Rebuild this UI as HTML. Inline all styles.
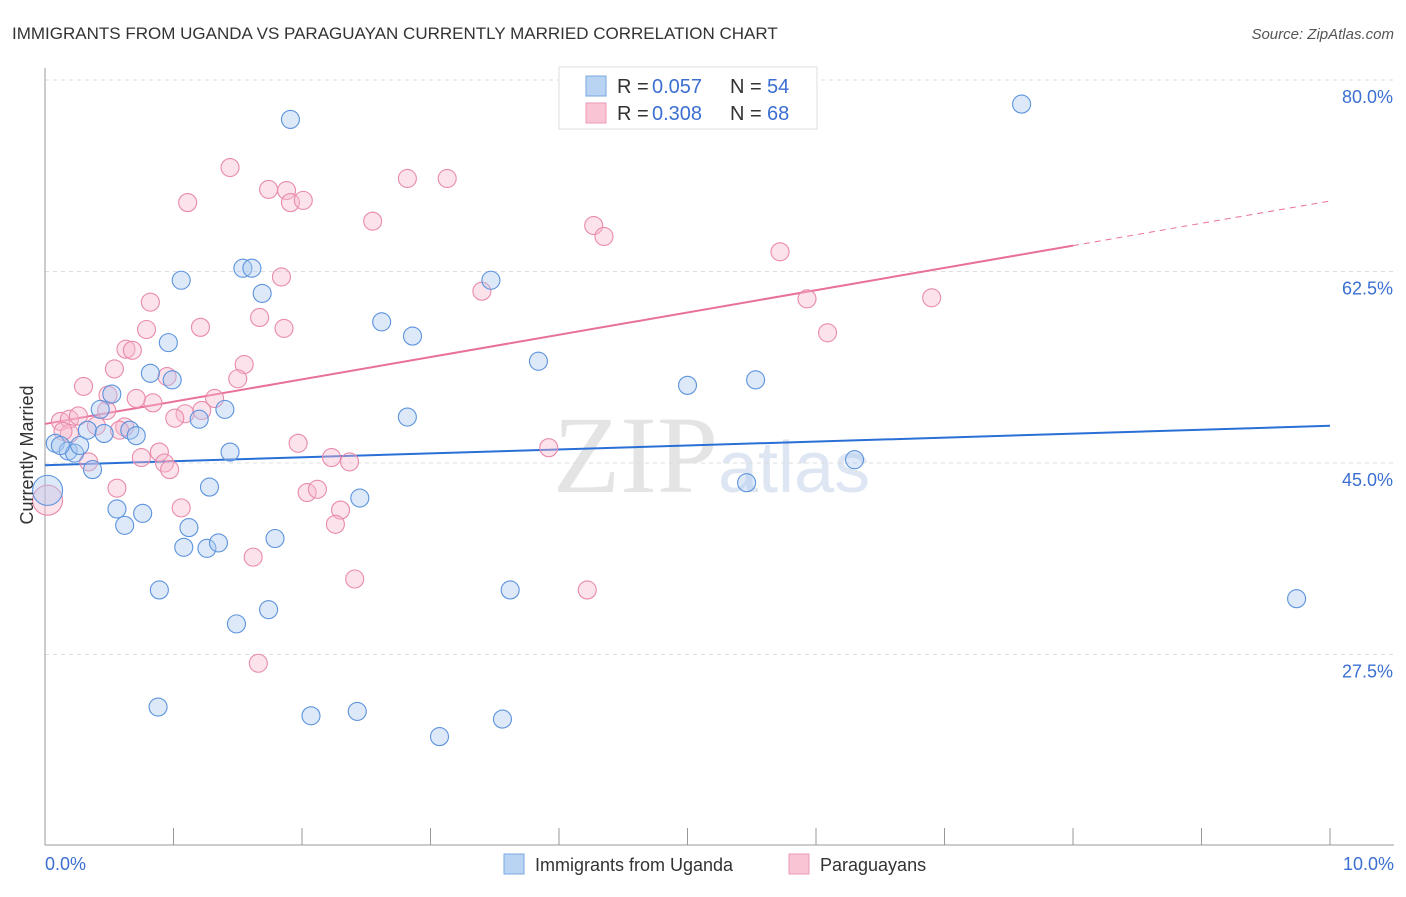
<!DOCTYPE html>
<html><head><meta charset="utf-8"><style>
body{margin:0;background:#fff;font-family:"Liberation Sans",sans-serif;}
svg text{font-family:"Liberation Sans",sans-serif;}
</style></head><body>
<svg id="chart" width="1406" height="892" xmlns="http://www.w3.org/2000/svg">
<text x="12" y="39" font-size="17" fill="#333">IMMIGRANTS FROM UGANDA VS PARAGUAYAN CURRENTLY MARRIED CORRELATION CHART</text>
<text x="1394" y="39" font-size="15" fill="#555" font-style="italic" text-anchor="end">Source: ZipAtlas.com</text>
<text x="553" y="492" font-size="110" fill="#e4e4e4" style="font-family:'Liberation Serif',serif">ZIP</text>
<text x="718" y="492" font-size="72" fill="#dde6f2">atlas</text>
<g id="grid"></g><g id="axes"></g><g id="lines"></g><g id="pts"></g>
<text transform="translate(33,455) rotate(-90)" font-size="18" fill="#333" text-anchor="middle">Currently Married</text>
<text x="45" y="870" font-size="18" fill="#3b6fd1">0.0%</text>
<text x="1394" y="870" font-size="18" fill="#3b6fd1" text-anchor="end">10.0%</text>
<g>
<rect x="559" y="67" width="258" height="62" fill="#fff" stroke="#ddd"/>
<rect x="586" y="76" width="20" height="20" fill="#b9d3f3" stroke="#7aa7e0"/>
<rect x="586" y="103" width="20" height="20" fill="#f9c5d5" stroke="#ec9ab5"/>
<text y="93" font-size="20" fill="#333"><tspan x="617">R =</tspan><tspan x="652" fill="#3b6fd1">0.057</tspan><tspan x="730">N =</tspan><tspan x="767" fill="#3b6fd1">54</tspan></text>
<text y="120" font-size="20" fill="#333"><tspan x="617">R =</tspan><tspan x="652" fill="#3b6fd1">0.308</tspan><tspan x="730">N =</tspan><tspan x="767" fill="#3b6fd1">68</tspan></text>
</g>
<g>
<rect x="504" y="854" width="20" height="20" fill="#b9d3f3" stroke="#7aa7e0"/>
<text x="535" y="871" font-size="18" fill="#333">Immigrants from Uganda</text>
<rect x="789" y="854" width="20" height="20" fill="#f9c5d5" stroke="#ec9ab5"/>
<text x="820" y="871" font-size="18" fill="#333">Paraguayans</text>
</g>
</svg>
<script>
const yTicks=[80,62.5,45,27.5];
const yTickLabels=["80.0%","62.5%","45.0%","27.5%"];
const blueX=[1.91,7.60,1.06,1.54,1.61,1.69,3.47,0.96,2.62,2.86,0.82,0.99,3.84,5.00,5.53,0.52,0.43,1.40,1.20,2.82,0.33,0.46,0.66,0.71,0.08,0.18,0.23,1.44,0.37,6.30,1.28,5.46,2.45,0.56,0.76,0.62,1.12,1.08,1.26,1.35,1.79,0.89,3.62,1.74,1.49,9.74,0.88,2.07,2.43,3.56,3.07,0.02,0.27,0.12];
const blueY=[76.4,77.8,61.7,62.8,62.8,60.5,61.7,56.0,57.9,56.6,53.2,52.6,54.3,52.1,52.6,51.3,49.9,49.9,49.0,49.2,48.0,47.7,48.0,47.5,46.8,46.1,45.9,46.0,44.4,45.3,42.8,43.2,41.8,40.8,40.4,39.3,39.1,37.3,37.2,37.7,38.1,33.4,33.4,31.6,30.3,32.6,22.7,21.9,22.3,21.6,20.0,42.5,46.6,46.6];
const pinkX=[1.44,1.74,1.88,1.91,2.01,1.11,2.82,3.13,2.55,4.27,4.35,5.72,1.84,3.40,0.82,5.93,6.90,1.67,0.79,1.21,1.86,6.09,0.63,0.68,1.55,0.54,0.30,0.95,1.50,0.49,0.71,0.84,1.32,0.48,1.22,1.09,1.01,0.12,0.19,0.26,0.19,0.62,0.40,0.14,0.58,3.92,1.97,0.89,0.75,2.23,2.37,0.93,0.97,0.34,0.56,1.06,2.04,2.12,2.30,2.26,2.41,4.22,1.62,1.66,0.02];
const pinkY=[72.0,70.0,69.9,68.8,69.0,68.8,71.0,71.0,67.1,66.7,65.7,64.3,62.0,60.7,59.7,60.0,60.1,58.3,57.2,57.4,57.3,56.9,55.4,55.3,54.0,53.6,52.0,52.9,52.7,51.2,50.9,50.5,50.9,49.8,49.8,49.5,49.1,48.8,49.0,49.3,47.7,48.3,48.4,47.9,48.0,46.4,46.8,46.0,45.5,45.5,45.1,45.0,44.4,45.1,42.7,40.9,42.3,42.6,40.7,39.4,34.4,33.4,36.4,26.7,41.6];
const blueTrend=[44.8,48.4];
const pinkTrend=[48.57,68.94];
const pinkSolidEnd=8.0;
const NS="http://www.w3.org/2000/svg";
const X=v=>45+v*128.5, Y=v=>80+(80-v)*10.943;
function mk(p,t,a){const e=document.createElementNS(NS,t);for(const k in a)e.setAttribute(k,a[k]);document.getElementById(p).appendChild(e);return e;}
yTicks.forEach((t,i)=>{
 const g=mk('grid','line',{x1:45,x2:1394,y1:Y(t),y2:Y(t),stroke:'#ddd','stroke-dasharray':'4,4'});
 
 
 const l=mk('grid','text',{x:1393,y:Y(t)+23,'font-size':18,fill:'#3b6fd1','text-anchor':'end'});
 l.textContent=yTickLabels[i];
 
 
});
const ax=mk('axes','line',{x1:45,x2:45,y1:68,y2:845,stroke:'#999'});


const bx=mk('axes','line',{x1:45,x2:1394,y1:845,y2:845,stroke:'#999'});


for(let i=1;i<=10;i++){const t=mk('axes','line',{x1:X(i),x2:X(i),y1:828,y2:845,stroke:'#999'});
 
 }
const f=(tr,x)=>tr[0]+(tr[1]-tr[0])*x/10;
const bl=mk('lines','line',{x1:X(0),y1:Y(f(blueTrend,0)),x2:X(10),y2:Y(f(blueTrend,10)),stroke:'#2a6fd6','stroke-width':2});


const pl=mk('lines','line',{x1:X(0),y1:Y(f(pinkTrend,0)),x2:X(pinkSolidEnd),y2:Y(f(pinkTrend,pinkSolidEnd)),stroke:'#e8709a','stroke-width':2});


const pd=mk('lines','line',{x1:X(pinkSolidEnd),y1:Y(f(pinkTrend,pinkSolidEnd)),x2:X(10),y2:Y(f(pinkTrend,10)),stroke:'#e8709a','stroke-width':1,'stroke-dasharray':'6,5'});


function pts(xs,ys,fill,stroke,name){xs.forEach((x,i)=>{
 const r=(x<0.05)?15:9;
 const c=mk('pts','circle',{cx:X(x),cy:Y(ys[i]),r:r,fill:fill,'fill-opacity':0.4,stroke:stroke,'stroke-width':1.1});
 
 
});}
pts(pinkX,pinkY,'#f7b8cc','#e98aab','paraguayan-point');
pts(blueX,blueY,'#a9c8ef','#5b93dd','uganda-point');
</script>
</body></html>
